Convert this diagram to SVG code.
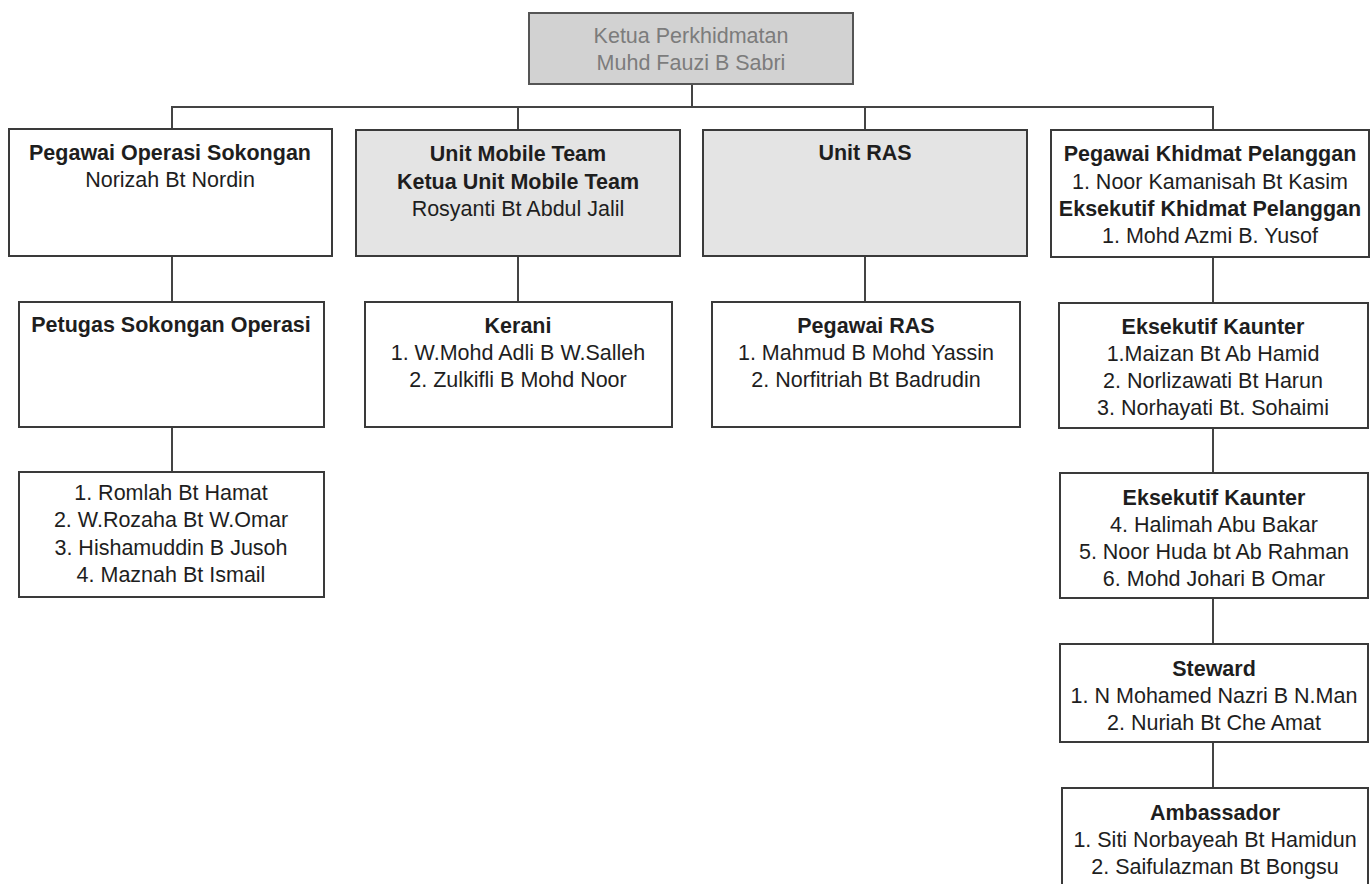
<svg xmlns="http://www.w3.org/2000/svg" width="1370" height="884" viewBox="0 0 1370 884">
<style>
.box{fill:#ffffff;stroke:#3a3a3a;stroke-width:2}
.grey{fill:#e4e4e4}
.top{fill:#d2d2d2;stroke:#555555}
text{font-family:"Liberation Sans",Arial,sans-serif;font-size:21.5px;fill:#1e1e1e;text-anchor:middle}
.b{font-weight:bold}
.lt{fill:#7c7c7c}
.conn line{stroke:#444444;stroke-width:2}
</style>
<rect width="1370" height="884" fill="#ffffff"/>
<g class="conn" id="connectors">
<line x1="692" y1="84" x2="692" y2="107"/>
<line x1="171" y1="107" x2="1214" y2="107"/>
<line x1="172" y1="107" x2="172" y2="129"/>
<line x1="518" y1="107" x2="518" y2="130"/>
<line x1="865" y1="107" x2="865" y2="130"/>
<line x1="1213" y1="107" x2="1213" y2="130"/>
<line x1="172" y1="256" x2="172" y2="302"/>
<line x1="172" y1="427" x2="172" y2="472"/>
<line x1="518" y1="256" x2="518" y2="302"/>
<line x1="865" y1="256" x2="865" y2="302"/>
<line x1="1213" y1="257" x2="1213" y2="303"/>
<line x1="1213" y1="428" x2="1213" y2="473"/>
<line x1="1213" y1="598" x2="1213" y2="644"/>
<line x1="1213" y1="742" x2="1213" y2="788"/>
</g>
<g id="ketua">
<rect class="box top" x="529" y="13" width="324" height="71"/>
<text class="lt" x="691" y="43">Ketua Perkhidmatan</text>
<text class="lt" x="691" y="70">Muhd Fauzi B Sabri</text>
</g>
<g id="pegawai-operasi">
<rect class="box" x="9" y="129" width="323" height="127"/>
<text class="b" x="170" y="160">Pegawai Operasi Sokongan</text>
<text x="170" y="187">Norizah Bt Nordin</text>
</g>
<g id="unit-mobile">
<rect class="box grey" x="356" y="130" width="324" height="126"/>
<text class="b" x="518" y="161">Unit Mobile Team</text>
<text class="b" x="518" y="189">Ketua Unit Mobile Team</text>
<text x="518" y="216">Rosyanti Bt Abdul Jalil</text>
</g>
<g id="unit-ras">
<rect class="box grey" x="703" y="130" width="324" height="126"/>
<text class="b" x="865" y="160">Unit RAS</text>
</g>
<g id="pegawai-khidmat">
<rect class="box" x="1051" y="130" width="318" height="127"/>
<text class="b" x="1210" y="161">Pegawai Khidmat Pelanggan</text>
<text x="1210" y="189">1. Noor Kamanisah Bt Kasim</text>
<text class="b" x="1210" y="216">Eksekutif Khidmat Pelanggan</text>
<text x="1210" y="243">1. Mohd Azmi B. Yusof</text>
</g>
<g id="petugas">
<rect class="box" x="19" y="302" width="305" height="125"/>
<text class="b" x="171" y="332">Petugas Sokongan Operasi</text>
</g>
<g id="petugas-names">
<rect class="box" x="19" y="472" width="305" height="125"/>
<text x="171" y="500">1. Romlah Bt Hamat</text>
<text x="171" y="527">2. W.Rozaha Bt W.Omar</text>
<text x="171" y="555">3. Hishamuddin B Jusoh</text>
<text x="171" y="582">4. Maznah Bt Ismail</text>
</g>
<g id="kerani">
<rect class="box" x="365" y="302" width="307" height="125"/>
<text class="b" x="518" y="333">Kerani</text>
<text x="518" y="360">1. W.Mohd Adli B W.Salleh</text>
<text x="518" y="387">2. Zulkifli B Mohd Noor</text>
</g>
<g id="pegawai-ras">
<rect class="box" x="712" y="302" width="308" height="125"/>
<text class="b" x="866" y="333">Pegawai RAS</text>
<text x="866" y="360">1. Mahmud B Mohd Yassin</text>
<text x="866" y="387">2. Norfitriah Bt Badrudin</text>
</g>
<g id="eksekutif-kaunter-1">
<rect class="box" x="1059" y="303" width="309" height="125"/>
<text class="b" x="1213" y="334">Eksekutif Kaunter</text>
<text x="1213" y="361">1.Maizan Bt Ab Hamid</text>
<text x="1213" y="388">2. Norlizawati Bt Harun</text>
<text x="1213" y="415">3. Norhayati Bt. Sohaimi</text>
</g>
<g id="eksekutif-kaunter-2">
<rect class="box" x="1060" y="473" width="308" height="125"/>
<text class="b" x="1214" y="505">Eksekutif Kaunter</text>
<text x="1214" y="532">4. Halimah Abu Bakar</text>
<text x="1214" y="559">5. Noor Huda bt Ab Rahman</text>
<text x="1214" y="586">6. Mohd Johari B Omar</text>
</g>
<g id="steward">
<rect class="box" x="1060" y="644" width="308" height="98"/>
<text class="b" x="1214" y="676">Steward</text>
<text x="1214" y="703">1. N Mohamed Nazri B N.Man</text>
<text x="1214" y="730">2. Nuriah Bt Che Amat</text>
</g>
<g id="ambassador">
<rect class="box" x="1062" y="788" width="306" height="110"/>
<text class="b" x="1215" y="820">Ambassador</text>
<text x="1215" y="847">1. Siti Norbayeah Bt Hamidun</text>
<text x="1215" y="874">2. Saifulazman Bt Bongsu</text>
</g>
</svg>
